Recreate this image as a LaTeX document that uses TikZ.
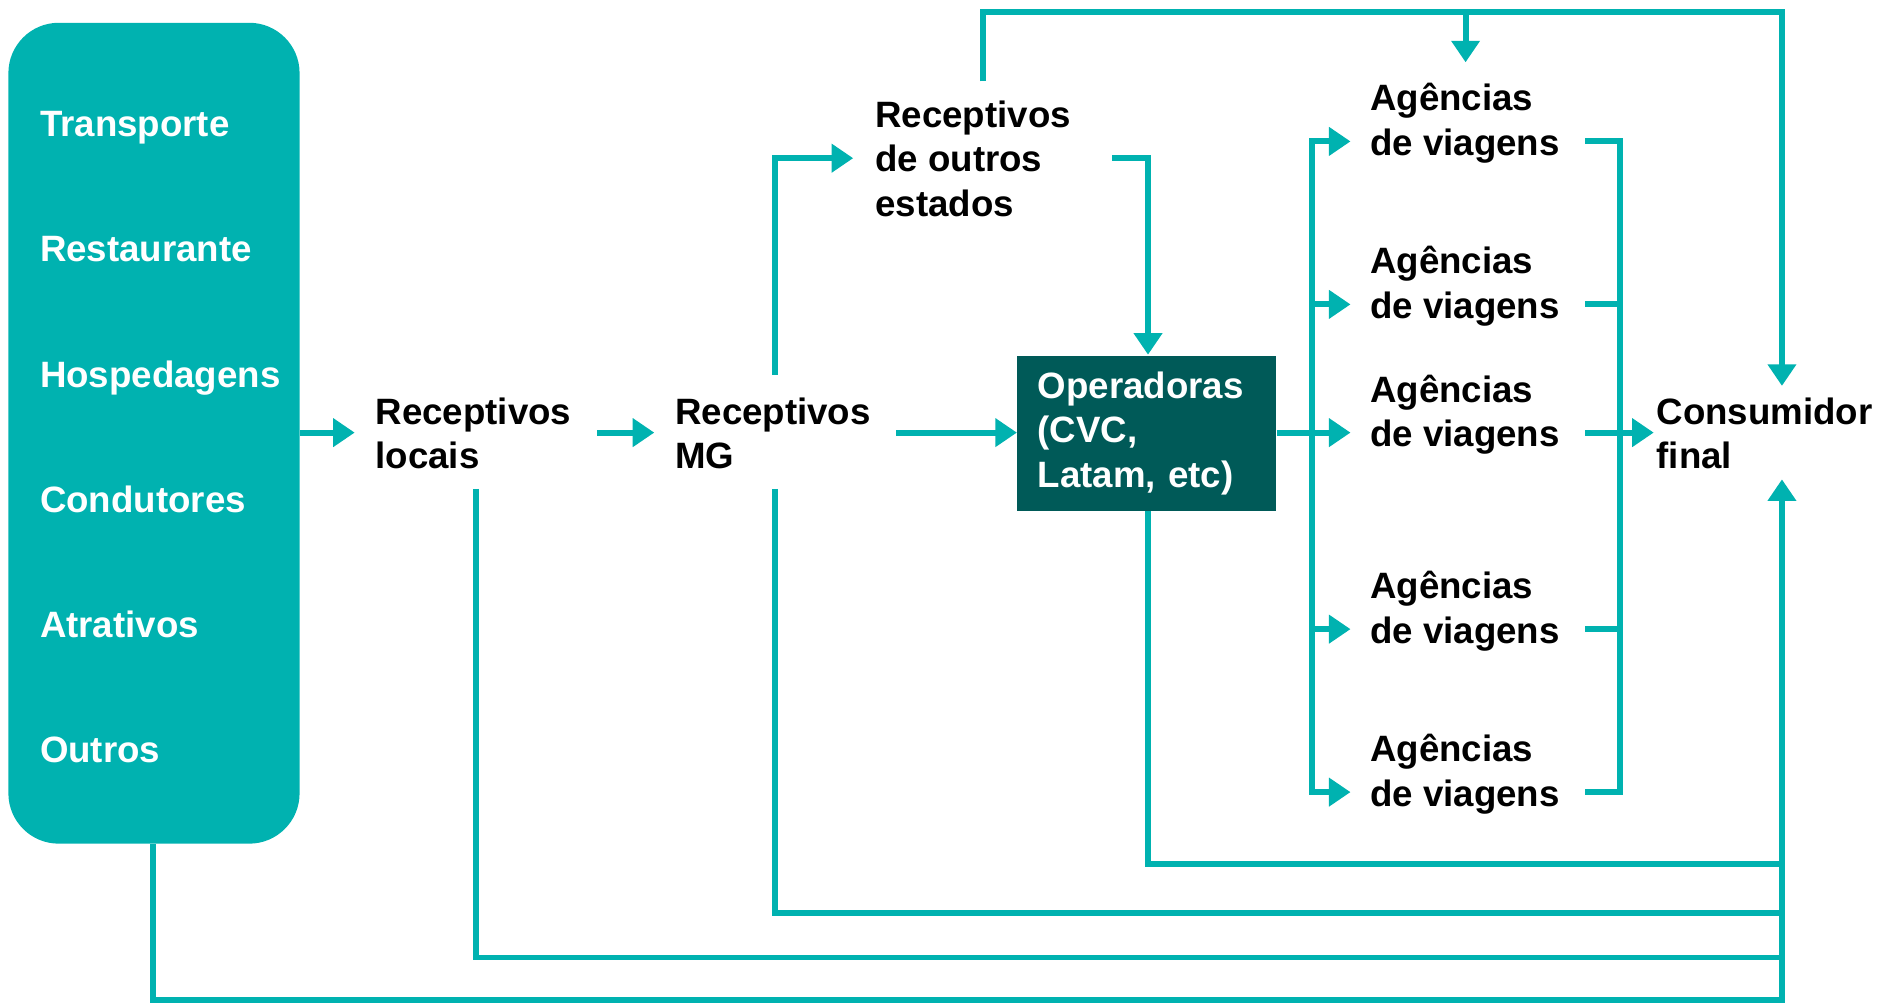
\documentclass[tikz,border=0pt]{standalone}
\usepackage{fontspec}
\setmainfont{Liberation Sans}
\usetikzlibrary{arrows.meta}
\definecolor{tealA}{RGB}{0,178,176}
\definecolor{tealD}{RGB}{0,90,88}
\begin{document}
\begin{tikzpicture}[x=0.5pt,y=-0.5pt,
  conn/.style={draw=tealA, line width=2.5pt},
  arr/.style={conn, -{Triangle[length=9pt,width=11.5pt]}},
  lbl/.style={font=\bfseries\fontsize{15.3}{18.6}\selectfont, align=left, inner sep=0pt, anchor=west},
  srcitem/.style={lbl, text=white, anchor=base west}]
\useasboundingbox (0,0) rectangle (1568,837);

% source box
\node[fill=tealA, rounded corners=21pt, minimum width=121.5pt, minimum height=342.5pt, inner sep=0pt] (src) at (128.5,361.5) {};
\node[srcitem] (s1) at (33,114) {Transporte};
\node[srcitem] (s2) at (33,218.5) {Restaurante};
\node[srcitem] (s3) at (33,323) {Hospedagens};
\node[srcitem] (s4) at (33,427.5) {Condutores};
\node[srcitem] (s5) at (33,532) {Atrativos};
\node[srcitem] (s6) at (33,636) {Outros};

% text nodes
\node[lbl] (loc) at (313,361.5) {Receptivos\\locais};
\node[lbl] (mg) at (563,361.5) {Receptivos\\MG};
\node[lbl] (out) at (730,132.5) {Receptivos\\de outros\\estados};
\node[fill=tealD, text=white, font=\bfseries\fontsize{15.3}{18.6}\selectfont, align=left,
      text width=91pt, inner xsep=8.5pt, inner ysep=0pt, minimum height=64.5pt] (op) at (957,361.5) {Operadoras\\(CVC,\\Latam, etc)};
\node[lbl] (ag1) at (1143,103) {Agências\\de viagens};
\node[lbl] (ag2) at (1143,239) {Agências\\de viagens};
\node[lbl] (ag3) at (1143,346) {Agências\\de viagens};
\node[lbl] (ag4) at (1143,510) {Agências\\de viagens};
\node[lbl] (ag5) at (1143,646) {Agências\\de viagens};
\node[lbl] (cons) at (1382,361.5) {Consumidor\\final};

% helper coordinates
\coordinate (tLoc) at (296,361);
\coordinate (tMg) at (546,361);
\coordinate (tOut) at (712,132);
\coordinate (tOp) at (958,296);
\coordinate (tA1) at (1127,118);
\coordinate (tA2) at (1127,254);
\coordinate (tA3) at (1127,361);
\coordinate (tA4) at (1127,525);
\coordinate (tA5) at (1127,661);
\coordinate (tCons) at (1380,361);
\coordinate (tConsTop) at (1487,322);
\coordinate (tConsBot) at (1487,400);
\coordinate (tAgTop) at (1223,52);

% main flow
\draw[arr] (src.east |- tLoc) -- (tLoc);
\draw[arr] (498,361) -- (tMg);
\draw[arr] (748,361) -- (op.west |- tLoc);
\draw[arr] (647,313) |- (tOut);
\draw[arr] (928,132) -| (tOp);

% top line
\draw[arr] (820,68) |- (1487,10) -- (tConsTop);
\draw[arr] (1223,10) -- (tAgTop);

% left trunk to agencies
\draw[arr] (op.east |- tA3) -- (tA3);
\draw[arr] (1095,361) |- (tA1);
\draw[arr] (1095,361) |- (tA5);
\draw[arr] (1095,254) -- (tA2);
\draw[arr] (1095,525) -- (tA4);

% right trunk to consumer
\draw[conn] (1323,118) -| (1352,661) -- (1323,661);
\draw[conn] (1323,254) -- (1352,254);
\draw[conn] (1323,525) -- (1352,525);
\draw[arr] (1323,361) -- (tCons);

% bottom lines
\draw[conn] (op.south -| tOp) |- (1487,721);
\draw[conn] (647,408) |- (1487,762);
\draw[conn] (397,408) |- (1487,799);
\draw[arr] (src.south -| 128,0) |- (1487,834.5) -- (tConsBot);
\end{tikzpicture}
\end{document}
